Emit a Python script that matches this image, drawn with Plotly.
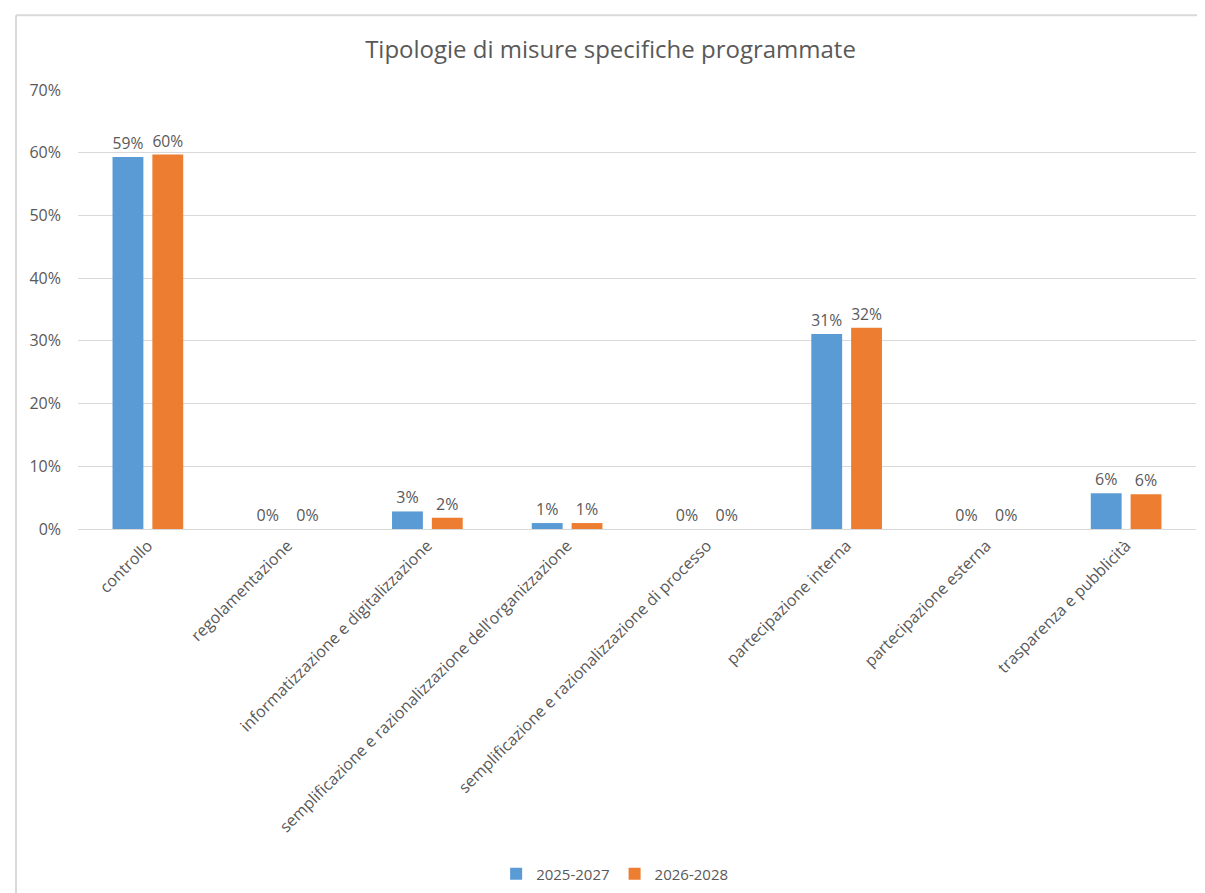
import plotly.graph_objects as go

categories = [
    "controllo",
    "regolamentazione",
    "informatizzazione e digitalizzazione",
    "semplificazione e razionalizzazione dell’organizzazione",
    "semplificazione e razionalizzazione di processo",
    "partecipazione interna",
    "partecipazione esterna",
    "trasparenza e pubblicità",
]
series_names = ["2025-2027", "2026-2028"]
values_2025 = [0.593, 0.0, 0.028, 0.0095, 0.0, 0.311, 0.0, 0.057]
values_2026 = [0.597, 0.0, 0.018, 0.0095, 0.0, 0.321, 0.0, 0.0555]
y_ticks = [0, 0.1, 0.2, 0.3, 0.4, 0.5, 0.6, 0.7]

colors = ["#5b9bd5", "#ed7d31"]
grey = "#595959"
font_family = "Open Sans, Noto Sans, sans-serif"

W, H = 1205, 893
ML, MR, MT, MB = 70, 17, 82, 371
PW, PH = W - ML - MR, H - MT - MB


def px(x):
    return (x - ML) / PW


def py(y):
    return (H - MB - y) / PH


fig = go.Figure()
for name, vals, col in zip(series_names, [values_2025, values_2026], colors):
    fig.add_trace(go.Bar(
        x=categories,
        y=vals,
        name=name,
        marker_color=col,
        marker_line_width=0,
        texttemplate="%{y:.0%}",
        textposition="outside",
        textfont=dict(size=16, color=grey, family=font_family),
        cliponaxis=False,
    ))

fig.update_layout(
    width=W,
    height=H,
    margin=dict(l=ML, r=MR, t=MT, b=MB),
    paper_bgcolor="white",
    plot_bgcolor="white",
    barmode="group",
    bargap=0.43,
    bargroupgap=0.225,
    font=dict(family=font_family, color=grey),
    title=dict(
        text="Tipologie di misure specifiche programmate",
        x=0.5, xanchor="center", y=1 - 42 / H, yanchor="middle",
        font=dict(size=24, color=grey, family=font_family),
    ),
    xaxis=dict(
        tickangle=-45,
        tickfont=dict(size=16, color=grey),
        showgrid=False,
        showline=True,
        linecolor="#d9d9d9",
        linewidth=1,
        ticks="",
    ),
    yaxis=dict(
        range=[0, 0.7],
        tickvals=y_ticks,
        tickformat=".0%",
        tickfont=dict(size=16, color=grey),
        showgrid=True,
        gridcolor="#d9d9d9",
        gridwidth=1,
        zeroline=False,
        showline=False,
        ticks="",
        ticklabelstandoff=16,
    ),
    legend=dict(
        orientation="h",
        x=0.48, xanchor="center",
        y=py(866), yanchor="middle",
        font=dict(size=15, color=grey),
        itemwidth=30,
        traceorder="normal",
    ),
    shapes=[
        dict(type="line", xref="paper", yref="paper",
             x0=px(8), x1=px(1205), y0=py(7), y1=py(7),
             line=dict(color="#d9d9d9", width=2)),
        dict(type="line", xref="paper", yref="paper",
             x0=px(8), x1=px(8), y0=py(7), y1=py(893),
             line=dict(color="#d9d9d9", width=2)),
    ],
)

fig.write_html("out.html")
